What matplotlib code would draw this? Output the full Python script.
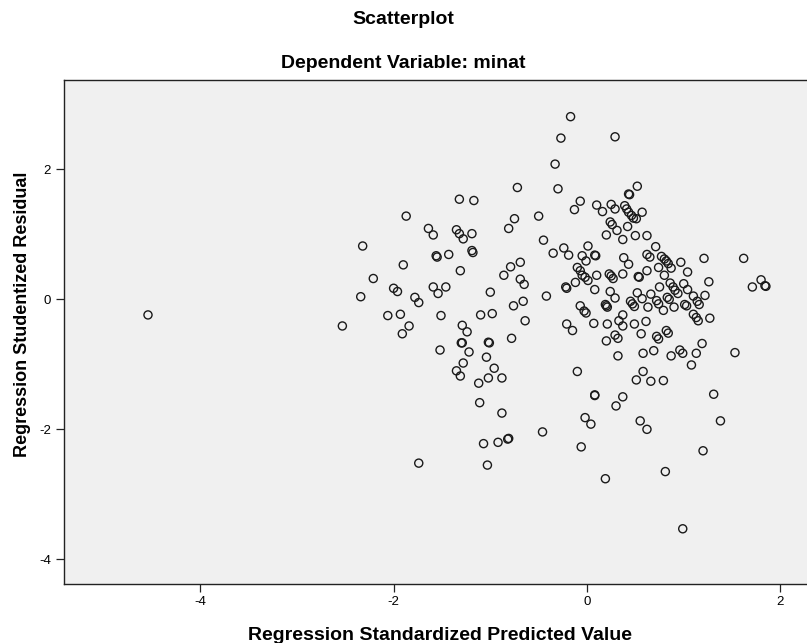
import matplotlib
matplotlib.use("Agg")
import matplotlib.pyplot as plt

plt.rcParams['font.family'] = ['Liberation Sans', 'DejaVu Sans']
plt.rcParams['axes.unicode_minus'] = False

# Regression standardized predicted value (x) and studentized residual (y)
x_pred = [
    -4.54,
    -2.32, -2.21, -2.00, -2.34, -2.06, -2.53,
    -0.17, -0.27, -0.33, -0.72, -0.30, -1.32, -1.17, -0.07, -0.13, -1.87,
    -0.75, -0.50, -0.81, -1.64, -1.59, -1.35, -1.32, -1.28, -1.19, -0.45,
    -0.35, -0.24, -0.19, 0.01, -0.05, -0.01, 0.08, -1.56, -1.55, -1.43,
    -1.19, -1.18, -1.90, -1.31, -0.69, -0.79, -0.86, -0.10, -0.07, -0.05,
    -0.02, 0.01, -0.12, -0.69, -0.65, -1.96, -1.59, -1.54, -1.46, -1.00,
    -0.42, -0.22, -0.21, -0.07, -0.03, -0.01, -1.78, -1.74, -1.93, -1.51,
    -1.10, -0.98, -0.76, -0.66, -0.64,
    -1.84, -1.91, -1.29, -1.24, -1.30, -1.29, -1.22, -1.52, -1.02, -1.01,
    -0.78, -0.21, -0.15, 0.07, -1.04, -1.28, -1.35, -1.31, -0.96, -1.02,
    -0.88, -1.12, -0.10, 0.08, 0.08, -1.11, -0.88, -0.02, 0.04, -0.46,
    -0.81, -0.82, -0.92, -1.07, -0.06, -1.74, -1.03,
    0.29, 0.52, 0.43, 0.44, 0.10, 0.16, 0.25, 0.29, 0.39, 0.41, 0.43, 0.46,
    0.48, 0.51, 0.57, 0.24, 0.26, 0.31, 0.42, 0.20, 0.37, 0.50, 0.62, 0.71,
    0.09, 0.38, 0.43, 0.62, 0.65, 0.77, 0.80, 0.82, 0.84, 0.87, 0.97, 1.21,
    1.62, 1.80, 1.71, 1.84, 1.85, 0.74, 0.62, 0.80, 1.04, 1.26, 0.10, 0.37,
    0.23, 0.25, 0.27, 0.53, 0.54, 0.08, 0.24, 0.29, 0.19, 0.20, 0.21, 0.45,
    0.47, 0.49, 0.52, 0.57, 0.63, 0.66, 0.75, 0.72, 0.74, 0.79, 0.83, 0.85,
    0.86, 0.89, 0.91, 0.94, 0.90, 1.00, 1.04, 1.10, 1.14, 1.16, 1.22, 1.01,
    1.03, 1.10, 1.13, 1.15, 1.27, 0.37, 0.33, 0.61,
    0.21, 0.37, 0.49, 0.29, 0.32, 0.20, 0.56, 0.72, 0.74, 0.82, 0.84, 0.32,
    0.58, 0.69, 0.87, 0.96, 0.99, 1.13, 1.19, 1.08, 1.53, 0.58, 0.51, 0.66,
    0.79, 0.37, 0.30, 1.31, 0.55, 0.62, 1.38, 1.20, 0.81, 0.19, 0.99,
]
y_resid = [
    -0.24,
    0.82, 0.32, 0.17, 0.04, -0.25, -0.41,
    2.81, 2.48, 2.08, 1.72, 1.70, 1.54, 1.52, 1.51, 1.38, 1.28,
    1.24, 1.28, 1.09, 1.09, 0.99, 1.07, 1.01, 0.93, 1.01, 0.91,
    0.71, 0.79, 0.68, 0.82, 0.67, 0.59, 0.68, 0.67, 0.65, 0.69,
    0.75, 0.72, 0.53, 0.44, 0.57, 0.50, 0.37, 0.49, 0.44, 0.37,
    0.34, 0.29, 0.26, 0.31, 0.23, 0.12, 0.19, 0.09, 0.19, 0.11,
    0.05, 0.19, 0.17, -0.10, -0.18, -0.21, 0.03, -0.05, -0.23, -0.25,
    -0.24, -0.22, -0.10, -0.03, -0.33,
    -0.41, -0.53, -0.40, -0.50, -0.67, -0.67, -0.81, -0.78, -0.66, -0.67,
    -0.60, -0.38, -0.48, -0.37, -0.89, -0.98, -1.10, -1.18, -1.06, -1.21,
    -1.21, -1.29, -1.11, -1.48, -1.47, -1.59, -1.75, -1.82, -1.92, -2.04,
    -2.14, -2.15, -2.20, -2.22, -2.27, -2.52, -2.55,
    2.50, 1.74, 1.62, 1.61, 1.45, 1.35, 1.46, 1.39, 1.44, 1.39, 1.34, 1.29,
    1.25, 1.24, 1.34, 1.19, 1.15, 1.06, 1.12, 0.99, 0.92, 0.98, 0.98, 0.81,
    0.67, 0.64, 0.54, 0.69, 0.65, 0.66, 0.62, 0.59, 0.55, 0.48, 0.57, 0.63,
    0.63, 0.30, 0.19, 0.21, 0.20, 0.49, 0.44, 0.37, 0.42, 0.27, 0.37, 0.39,
    0.39, 0.36, 0.32, 0.35, 0.34, 0.15, 0.12, 0.02, -0.08, -0.10, -0.12, -0.03,
    -0.07, -0.11, 0.10, 0.01, -0.12, 0.08, 0.19, -0.02, -0.07, -0.17, 0.03, 0.00,
    0.25, 0.19, 0.14, 0.09, -0.12, 0.24, 0.15, 0.05, -0.03, -0.08, 0.06, -0.08,
    -0.10, -0.23, -0.28, -0.33, -0.29, -0.24, -0.33, -0.34,
    -0.38, -0.41, -0.38, -0.55, -0.60, -0.64, -0.53, -0.57, -0.61, -0.48, -0.52, -0.87,
    -0.83, -0.79, -0.87, -0.78, -0.83, -0.83, -0.68, -1.01, -0.82, -1.11, -1.24, -1.26,
    -1.25, -1.50, -1.64, -1.46, -1.87, -2.00, -1.87, -2.33, -2.65, -2.76, -3.53,
]

x_ticks = [-4, -2, 0, 2]
y_ticks = [-4, -2, 0, 2]

fig = plt.figure(figsize=(8.07, 6.43), dpi=100)
ax = fig.add_axes([0.0789, 0.0925, 1 - 0.0789, 0.8756 - 0.0925])
ax.set_facecolor('#f0f0f0')

ax.scatter(x_pred, y_resid, s=34, facecolors='none', edgecolors='#1a1a1a',
           linewidths=1.0, zorder=3)

ax.set_xlim(-5.412, 2.275)
ax.set_ylim(-4.372, 3.374)
ax.set_xticks(x_ticks)
ax.set_yticks(y_ticks)
ax.tick_params(direction='out', length=6, width=0.9, color='#222222',
               labelsize=9.5, pad=3)

for side in ['left', 'bottom', 'top']:
    ax.spines[side].set_color('#222222')
    ax.spines[side].set_linewidth(1.0)
ax.spines['right'].set_visible(False)

ax.set_xlabel("Regression Standardized Predicted Value", fontsize=14,
              fontweight='bold')
ax.xaxis.set_label_coords((440 - 63.7) / (807 - 63.7), -(635 - 583.5) / 503.5)
ax.xaxis.label.set_va('center')
ax.set_ylabel("Regression Studentized Residual", fontsize=13,
              fontweight='bold')
ax.yaxis.set_label_coords(-(63.7 - 23) / (807 - 63.7), (583.5 - 314) / 503.5)
ax.yaxis.label.set_va('center')

fig.text(0.5, 1 - 20 / 643, "Scatterplot", ha='center', va='center',
         fontsize=14, fontweight='bold')
fig.text(0.5, 1 - 64 / 643, "Dependent Variable: minat", ha='center',
         va='center', fontsize=14, fontweight='bold')

fig.savefig("out.png", dpi=100, facecolor='white')
